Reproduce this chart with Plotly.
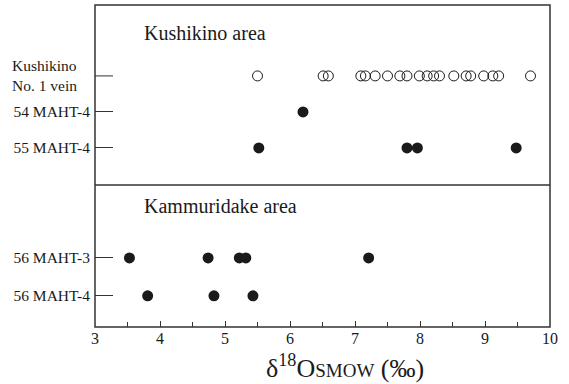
import plotly.graph_objects as go

# ---- data (δ18O SMOW, ‰) ----
top_rows = ["55 MAHT-4", "54 MAHT-4", "Kushikino No. 1 vein"]
bottom_rows = ["56 MAHT-4", "56 MAHT-3"]

kushikino_vein = [5.50, 6.51, 6.59, 7.09, 7.16, 7.31, 7.50, 7.69, 7.80, 7.99,
                  8.11, 8.21, 8.30, 8.52, 8.71, 8.78, 8.98, 9.12, 9.21, 9.70]
maht54_4 = [6.20]
maht55_4 = [5.52, 7.80, 7.96, 9.48]
maht56_3 = [3.53, 4.74, 5.22, 5.32, 7.21]
maht56_4 = [3.81, 4.83, 5.43]

x_ticks = [3, 4, 5, 6, 7, 8, 9, 10]

FONT = "Liberation Serif, Times New Roman, serif"
INK = "#1a1a1a"
LINE = "#333333"

fig = go.Figure()

filled = dict(symbol="circle", size=11, color=INK, line=dict(width=0))
hollow = dict(symbol="circle-open", size=10, color=INK, line=dict(width=1, color=INK))

fig.add_trace(go.Scatter(x=kushikino_vein, y=[top_rows[2]] * len(kushikino_vein),
                         mode="markers", marker=hollow, xaxis="x", yaxis="y"))
fig.add_trace(go.Scatter(x=maht54_4, y=[top_rows[1]] * len(maht54_4),
                         mode="markers", marker=filled, xaxis="x", yaxis="y"))
fig.add_trace(go.Scatter(x=maht55_4, y=[top_rows[0]] * len(maht55_4),
                         mode="markers", marker=filled, xaxis="x", yaxis="y"))
fig.add_trace(go.Scatter(x=maht56_3, y=[bottom_rows[1]] * len(maht56_3),
                         mode="markers", marker=filled, xaxis="x2", yaxis="y2"))
fig.add_trace(go.Scatter(x=maht56_4, y=[bottom_rows[0]] * len(maht56_4),
                         mode="markers", marker=filled, xaxis="x2", yaxis="y2"))

split = 0.441

yax_common = dict(type="category", ticks="inside", ticklen=18, tickwidth=1,
                  tickcolor=LINE, showgrid=False, zeroline=False, showline=False,
                  tickfont=dict(family=FONT, size=15.5, color=INK),
                  ticklabelstandoff=4, fixedrange=True)

fig.update_layout(
    width=569, height=384,
    margin=dict(l=95, r=19, t=5, b=57),
    paper_bgcolor="white", plot_bgcolor="white",
    showlegend=False,
    font=dict(family=FONT, color=INK),
    xaxis=dict(domain=[0, 1], anchor="y", range=[3, 10], showticklabels=False,
               ticks="", showgrid=False, zeroline=False, showline=False),
    yaxis=dict(domain=[split, 1], anchor="x", categoryorder="array",
               categoryarray=top_rows, range=[-1.03, 3.97],
               tickmode="array", tickvals=top_rows[:2],
               ticktext=top_rows[:2], **yax_common),
    xaxis2=dict(domain=[0, 1], anchor="y2", range=[3, 10], matches="x",
                tickmode="array", tickvals=x_ticks,
                ticks="inside", ticklen=6, tickwidth=1, tickcolor=LINE,
                minor=dict(dtick=0.5, tick0=3, ticks="inside", ticklen=5,
                           tickwidth=1, tickcolor=LINE),
                showgrid=False, zeroline=False, showline=False,
                tickfont=dict(family=FONT, size=16, color=INK)),
    yaxis2=dict(domain=[0, split], anchor="x2", categoryorder="array",
                categoryarray=bottom_rows, range=[-0.82, 2.92],
                tickmode="array", tickvals=bottom_rows, ticktext=bottom_rows,
                **yax_common),
)

# frame and divider
fig.add_shape(type="rect", xref="paper", yref="paper", x0=0, x1=1, y0=0, y1=1,
              line=dict(color=LINE, width=1.5))
fig.add_shape(type="line", xref="paper", yref="paper", x0=0, x1=1, y0=split, y1=split,
              line=dict(color=LINE, width=1.5))
# tick for the Kushikino row (label drawn separately, left aligned)
fig.add_shape(type="line", xref="paper", yref="y", x0=0, x1=18 / 455,
              y0=top_rows[2], y1=top_rows[2], line=dict(color=LINE, width=1))

# labels
fig.add_annotation(text="Kushikino<br>No. 1 vein", xref="paper", yref="y",
                   x=-0.187, y=top_rows[2], xanchor="left", yanchor="middle",
                   align="left", showarrow=False,
                   font=dict(family=FONT, size=15.5, color=INK))
fig.add_annotation(text="Kushikino area", xref="paper", yref="paper",
                   x=0.103, y=(384 - 57 - 33) / 322, xanchor="left", yanchor="middle",
                   showarrow=False, font=dict(family=FONT, size=20, color=INK))
fig.add_annotation(text="Kammuridake area", xref="paper", yref="paper",
                   x=0.103, y=(384 - 57 - 206) / 322, xanchor="left", yanchor="middle",
                   showarrow=False, font=dict(family=FONT, size=20, color=INK))
fig.add_annotation(text="δ<sup>18</sup>O<span style='font-size:19px'>SMOW</span> (‰)",
                   xref="paper", yref="paper", x=0.549, y=-(366 - 327) / 322,
                   xanchor="center", yanchor="middle", showarrow=False,
                   font=dict(family=FONT, size=26, color=INK))

fig.write_html("out.html")
